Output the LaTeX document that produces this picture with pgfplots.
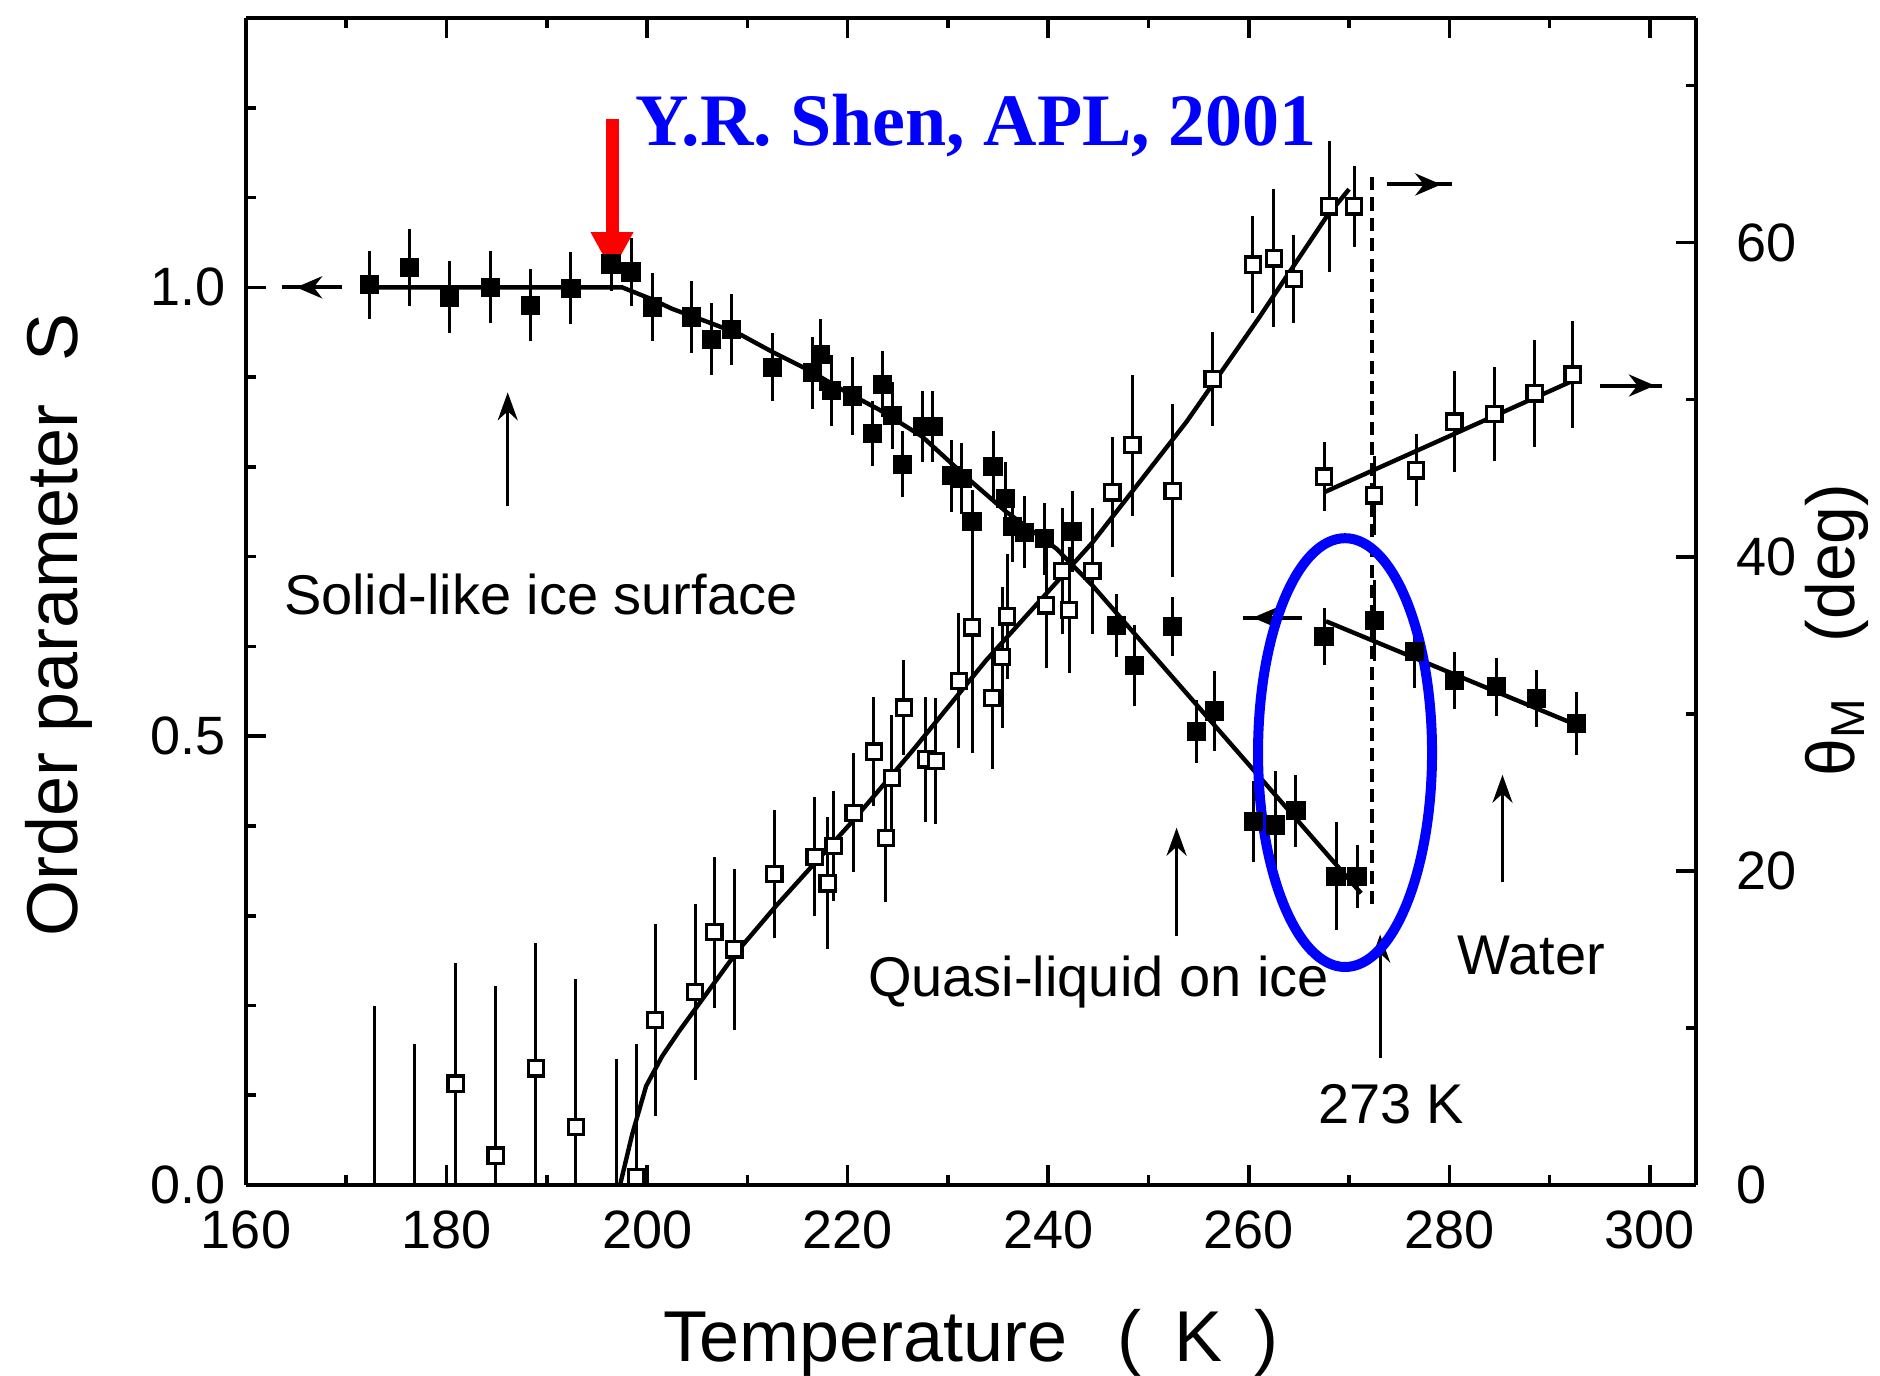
\documentclass[border=0pt]{standalone}
\usepackage{fontspec}
\setmainfont{Liberation Sans}
\newfontfamily\timesfont{Liberation Serif}
\usepackage{pgfplots}
\pgfplotsset{compat=1.18}
\usetikzlibrary{arrows.meta}

\begin{document}
\begin{tikzpicture}
\pgfplotsset{
  common/.style={
    at={(61.5pt,47.5pt)}, anchor=south west,
    width=362.5pt, height=291.75pt, scale only axis,
    xmin=160, xmax=304.6,
    axis line style={line width=1pt},
    every tick/.style={black, line width=0.9pt},
    major tick length=5pt, minor tick length=2.5pt,
    tick align=inside,
    ticklabel style={font=\fontsize{13.5}{15}\selectfont},
    /pgf/number format/assume math mode=true,
    clip=false,
  },
  errA/.style={error bars/.cd, y dir=both, y explicit, error mark=none,
    error bar style={line width=0.75pt, black}},
}
\tikzset{
  uparr/.style={line width=0.8pt, -{Stealth[length=7pt,width=5pt]}},
  sidearr/.style={line width=1pt, -{Stealth[length=6.5pt,width=5.5pt]}},
}
\begin{axis}[common,
  ymin=0, ymax=1.3,
  axis y line*=left,
  xtick={160,180,...,300}, minor xtick={170,190,...,290},
  ytick={0,0.5,1}, minor ytick={0.1,0.2,0.3,0.4,0.6,0.7,0.8,0.9,1.1,1.2},
  yticklabel style={xshift=-1.5pt, /pgf/number format/.cd, fixed, fixed zerofill, precision=1},
  xticklabel style={yshift=-3pt},
  xlabel={Temperature\hspace{0.7em}(\hspace{0.45em}K\hspace{0.45em})},
  xlabel style={font=\fontsize{18}{20}\selectfont, at={(axis description cs:0.5,-0.1508)}, anchor=base},
  ylabel={Order parameter\hspace{0.6em}S},
  ylabel style={font=\fontsize{18}{20}\selectfont, at={(axis description cs:-0.1159,0.48)}, anchor=base},
]
% fit line, ice order parameter
\addplot[black, line width=1.1pt, no marks] coordinates {
(171.6,1) (197.5,1) (200.4,0.987) (202.5,0.976) (205.9,0.962) (209.2,0.948)
(212.5,0.928) (215.9,0.909) (219.9,0.883) (223.1,0.864) (227.4,0.834)
(232.4,0.783) (235.8,0.75) (240.8,0.709) (244.4,0.668) (271.2,0.325)};
% ice S data
\addplot[only marks, mark=square*, mark size=2.2pt, black, errA] table[x=x,y=y,y error=e] {
x y e
172.3 1.003 0.038
176.3 1.022 0.043
180.3 0.989 0.040
184.4 1.000 0.040
188.4 0.980 0.040
192.4 0.999 0.040
196.4 1.026 0.030
198.4 1.017 0.038
200.5 0.978 0.038
204.4 0.967 0.040
206.4 0.942 0.040
208.4 0.953 0.040
212.5 0.911 0.038
216.5 0.905 0.040
217.3 0.925 0.040
218.4 0.885 0.040
220.5 0.879 0.043
222.5 0.837 0.036
223.5 0.892 0.037
224.5 0.857 0.037
225.5 0.803 0.037
227.5 0.845 0.040
228.5 0.845 0.040
230.4 0.790 0.040
231.4 0.787 0.040
232.4 0.739 0.035
234.5 0.800 0.040
235.7 0.765 0.040
236.4 0.734 0.040
237.6 0.727 0.040
239.6 0.720 0.040
242.4 0.728 0.045
246.8 0.623 0.035
248.6 0.579 0.045
252.4 0.622 0.033
254.8 0.505 0.035
256.6 0.528 0.045
260.5 0.405 0.045
262.7 0.401 0.060
264.7 0.417 0.040
268.7 0.344 0.060
270.8 0.344 0.035
};
% water S fit and data
\addplot[black, line width=1.1pt, no marks] coordinates {(267.7,0.628) (293,0.511)};
\addplot[only marks, mark=square*, mark size=2.2pt, black, errA] table[x=x,y=y,y error=e] {
x y e
267.5 0.611 0.032
272.5 0.629 0.045
276.5 0.594 0.040
280.5 0.562 0.032
284.7 0.555 0.032
288.7 0.542 0.032
292.7 0.514 0.035
};
% dashed 273 K line
\draw[black, line width=0.9pt, dash pattern=on 3.3pt off 1.8pt] (axis cs:272.3,1.123) -- (axis cs:272.3,0.306);
% axis-pointing arrows (S)
\draw[sidearr] (axis cs:169.6,1.0) -- (axis cs:165.0,1.0);
\draw[line width=1pt] (axis cs:166,1.0) -- (axis cs:163.6,1.0);
\draw[sidearr] (axis cs:265.3,0.632) -- (axis cs:260.4,0.632);
\draw[line width=1pt] (axis cs:261,0.632) -- (axis cs:259.4,0.632);
% annotation arrows
\draw[uparr] (axis cs:186.1,0.756) -- (axis cs:186.1,0.883);
\draw[uparr] (axis cs:252.8,0.277) -- (axis cs:252.8,0.398);
\draw[uparr] (axis cs:285.3,0.337) -- (axis cs:285.3,0.457);
\draw[uparr] (axis cs:273.1,0.141) -- (axis cs:273.1,0.279);
% texts
\node[anchor=base, font=\fontsize{14}{16}\selectfont] at (axis cs:189.4,0.636) {Solid-like ice surface};
\node[anchor=base, font=\fontsize{14}{16}\selectfont] at (axis cs:245,0.21) {Quasi-liquid on ice};
\node[anchor=base, font=\fontsize{14}{16}\selectfont] at (axis cs:288.2,0.234) {Water};
\node[anchor=base, font=\fontsize{14}{16}\selectfont] at (axis cs:274.2,0.068) {273 K};
% title and red arrow
\node[anchor=base, text=blue, font=\timesfont\bfseries\fontsize{18.5}{20}\selectfont] at (axis cs:232.8,1.158) {Y.R. Shen, APL, 2001};
\draw[red, line width=3.25pt, -{Triangle[length=10pt,width=10pt]}] (axis cs:196.5,1.187) -- (axis cs:196.5,1.017);
% ellipse
\draw[blue, line width=2.5pt] (axis cs:269.6,0.4817) ellipse [x radius=21.75pt, y radius=53.6pt];
\end{axis}

\begin{axis}[common,
  ymin=0, ymax=74.3,
  axis y line*=right, axis x line=none,
  ytick={0,20,40,60}, minor ytick={10,30,50,70},
  yticklabel style={xshift=6.5pt},
  ylabel={θ\textsubscript{M}\hspace{0.8em}(deg)},
  ylabel style={font=\fontsize{17}{19}\selectfont, at={(axis description cs:1.109,0.4756)}, anchor=base},
]
% ice theta fit
\addplot[black, line width=1.1pt, no marks] coordinates {
(197.3,0) (198.5,3.2) (199.9,6.3) (201.5,8.2) (203.2,9.8) (208.9,14.8) (212.9,17.8)
(220.4,23.1) (226.4,27.6) (233.8,33.4) (244.4,40.9) (253.8,48.6)
(261,55.2) (267.7,61.6) (270,63.4)};
% ice theta points near zero: error bars only (squares hidden in the axis)
\addplot[only marks, mark=*, mark options={opacity=0}, errA]
 table[x=x, y=y, y error plus=ep, y error minus=em] {
x y ep em
172.8 0 11.4 0
176.8 0 9.0 0
196.9 0 8.0 0
};
% ice theta data
\addplot[only marks, mark=square*, mark size=1.9pt, mark options={fill=white, draw=black, line width=0.8pt}, errA]
 table[x=x, y=y, y error plus=ep, y error minus=em] {
x y ep em
180.9 6.46 7.7 6.46
184.9 1.87 10.8 1.87
188.9 7.42 8.0 7.42
192.9 3.69 9.4 3.69
198.9 0.5 8.5 0.5
200.8 10.5 6.1 6.1
204.8 12.3 5.6 5.6
206.7 16.1 4.8 4.8
208.7 15.0 5.1 5.1
212.7 19.8 4.1 4.1
216.7 20.9 3.8 3.8
218.0 19.2 4.2 4.2
218.6 21.6 3.5 3.5
220.6 23.7 3.8 3.8
222.6 27.6 3.5 3.5
223.8 22.1 4.1 4.1
224.4 25.9 4.0 4.0
225.6 30.4 3.0 3.0
227.8 27.1 4.0 4.0
228.8 27.0 4.0 4.0
231.1 32.1 4.3 4.3
232.4 35.5 8.0 8.0
234.4 31.0 4.5 4.5
235.4 33.6 4.5 4.5
235.9 36.2 4.0 4.0
239.8 36.9 4.0 4.0
241.4 39.1 4.0 4.0
242.1 36.6 4.0 4.0
244.4 39.1 4.0 4.0
246.4 44.1 3.5 3.5
248.4 47.1 4.5 4.5
252.4 44.2 5.5 5.5
256.4 51.3 3.0 3.0
260.4 58.6 3.1 3.1
262.5 59.0 4.4 4.4
264.5 57.7 2.8 2.8
268.0 62.3 4.2 4.2
270.5 62.3 2.6 2.6
};
% water theta
\addplot[black, line width=1.1pt, no marks] coordinates {(267.5,44.1) (292.3,51.2)};
\addplot[only marks, mark=square*, mark size=1.9pt, mark options={fill=white, draw=black, line width=0.8pt}, errA]
 table[x=x,y=y,y error=e] {
x y e
267.5 45.1 2.2
272.5 43.9 2.5
276.7 45.5 2.3
280.5 48.6 3.2
284.5 49.1 3.0
288.5 50.4 3.4
292.3 51.6 3.4
};
% axis-pointing arrows (theta)
\draw[sidearr] (axis cs:273.8,63.7) -- (axis cs:279.2,63.7);
\draw[line width=1pt] (axis cs:278.5,63.7) -- (axis cs:280.3,63.7);
\draw[sidearr] (axis cs:295,50.9) -- (axis cs:300.5,50.9);
\draw[line width=1pt] (axis cs:300,50.9) -- (axis cs:301.2,50.9);
\end{axis}
\pgfresetboundingbox
\path[use as bounding box] (0,0) rectangle (470pt,343.75pt);
\end{tikzpicture}
\end{document}
